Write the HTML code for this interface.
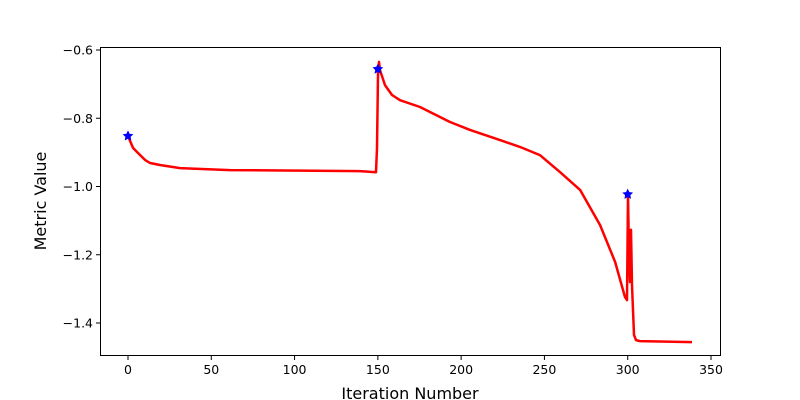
<!DOCTYPE html>
<html><head><meta charset="utf-8"><style>
body{margin:0;background:#fff}
svg{display:block;font-family:"DejaVu Sans","Liberation Sans",sans-serif}
</style></head><body>
<svg id="chart" width="800" height="400" viewBox="0 0 800 400" xmlns="http://www.w3.org/2000/svg">
<rect width="800" height="400" fill="#fff"/>
<g id="plot"></g>
<rect x="100.5" y="47.5" width="620" height="308" fill="none" stroke="#000" stroke-width="1"/>
<g id="xt"></g><g id="yt"></g>
<text x="410" y="399" text-anchor="middle" font-size="16">Iteration Number</text>
<text transform="translate(46,201) rotate(-90)" text-anchor="middle" font-size="16">Metric Value</text>
</svg>
<script>
const iters=[0,3,5.4,10.2,13.2,19.2,31.2,61.2,139.3,148.9,149.5,150.1,150.7,151.3,154.3,158.5,163.3,175.3,193.3,205.3,223.3,235.3,247.3,259.4,271.4,283.4,292.4,298.4,299.6,300.2,300.8,301.4,302,302.6,303.8,305,307.4,338.6];
const values=[-0.852,-0.887,-0.899,-0.922,-0.931,-0.937,-0.946,-0.952,-0.955,-0.958,-0.887,-0.673,-0.635,-0.659,-0.703,-0.732,-0.747,-0.767,-0.811,-0.834,-0.864,-0.884,-0.908,-0.958,-1.010,-1.113,-1.221,-1.324,-1.333,-1.025,-1.201,-1.280,-1.127,-1.289,-1.435,-1.450,-1.453,-1.456];
const markerIters=[0,150,300];
const markerValues=[-0.852,-0.656,-1.023];
const xTicks=[0,50,100,150,200,250,300,350];
const yTicks=[-0.6,-0.8,-1.0,-1.2,-1.4];
const yTickLabels=["\u22120.6","\u22120.8","\u22121.0","\u22121.2","\u22121.4"];
const X=v=>128+v*1.6657;
const Y=v=>50+(-0.6-v)*341.25;
const NS="http://www.w3.org/2000/svg";
const plot=document.getElementById('plot');
const line=document.createElementNS(NS,'polyline');


line.setAttribute('points',iters.map((v,i)=>X(v).toFixed(1)+','+Y(values[i]).toFixed(1)).join(' '));
line.setAttribute('fill','none');line.setAttribute('stroke','#ff0000');line.setAttribute('stroke-width','2.5');line.setAttribute('stroke-linejoin','round');
plot.appendChild(line);
function star(cx,cy,r){let p=[];for(let k=0;k<10;k++){const a=-Math.PI/2+k*Math.PI/5;const rr=k%2?r*0.5:r;p.push((cx+rr*Math.cos(a)).toFixed(1)+','+(cy+rr*Math.sin(a)).toFixed(1));}return p.join(' ');}
markerIters.forEach((v,i)=>{
 const s=document.createElementNS(NS,'polygon');
 
 
 s.setAttribute('points',star(X(v),Y(markerValues[i]),4.5));
 s.setAttribute('fill','#0000ff');s.setAttribute('stroke','#0000ff');s.setAttribute('stroke-width','1');
 plot.appendChild(s);
});
const xt=document.getElementById('xt');
xTicks.forEach(v=>{
 const x=X(v);
 const l=document.createElementNS(NS,'line');
 
 
 l.setAttribute('x1',x);l.setAttribute('x2',x);l.setAttribute('y1',356);l.setAttribute('y2',360);l.setAttribute('stroke','#000');
 xt.appendChild(l);
 const t=document.createElementNS(NS,'text');
 
 
 t.setAttribute('x',x);t.setAttribute('y',374);t.setAttribute('text-anchor','middle');t.setAttribute('font-size','12.5');
 t.textContent=v;xt.appendChild(t);
});
const yt=document.getElementById('yt');
yTicks.forEach((v,i)=>{
 const y=Y(v);
 const l=document.createElementNS(NS,'line');
 
 
 l.setAttribute('x1',96);l.setAttribute('x2',100);l.setAttribute('y1',y);l.setAttribute('y2',y);l.setAttribute('stroke','#000');
 yt.appendChild(l);
 const t=document.createElementNS(NS,'text');
 
 
 t.setAttribute('x',93);t.setAttribute('y',y+4.5);t.setAttribute('text-anchor','end');t.setAttribute('font-size','12.5');
 t.textContent=yTickLabels[i];yt.appendChild(t);
});
</script>
</body></html>
